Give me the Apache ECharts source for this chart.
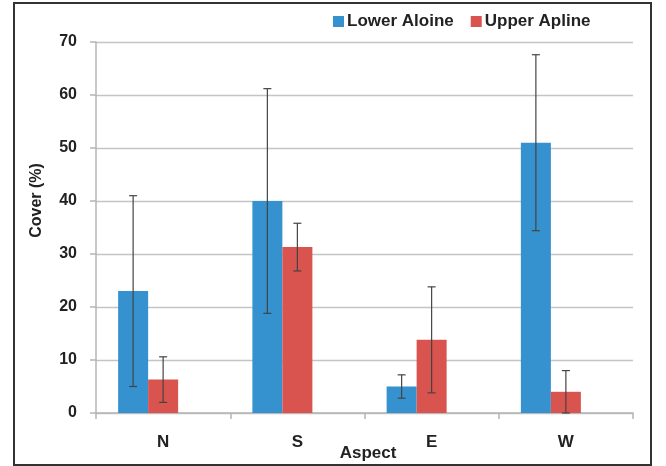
<!DOCTYPE html>
<html>
<head>
<meta charset="utf-8">
<script src="https://cdn.jsdelivr.net/npm/echarts@6/dist/echarts.min.js"></script>
<style>
  html, body { margin: 0; padding: 0; background: #fff; }
  #main { width: 666px; height: 466px; }
</style>
</head>
<body>
<div id="main"></div>
<script>
// data
var aspects = ["N", "S", "E", "W"];
var lowerMean = [23, 40, 5, 51];
var lowerErr = [18, 21.2, 2.2, 16.6];
var upperMean = [6.3, 31.3, 13.8, 4];
var upperErr = [4.3, 4.5, 10, 4];
var yTicks = [0, 10, 20, 30, 40, 50, 60, 70];

var blue = "#3592cf";
var red = "#d9534f";
var font = "Liberation Sans, Arial, sans-serif";

// error bar series; dx puts it over the matching bar
function errorSeries(name, means, errs, dx) {
  var rows = [];
  for (var i = 0; i < means.length; i++) {
    rows.push([i, means[i] - errs[i], means[i] + errs[i]]);
  }
  return {
    name: name + " err",
    type: "custom",
    data: rows,
    z: 10,
    silent: true,
    renderItem: function (params, api) {
      var lo = api.coord([api.value(0), api.value(1)]);
      var hi = api.coord([api.value(0), api.value(2)]);
      var x = lo[0] + dx;
      var cap = 4;
      var st = { stroke: "#444", lineWidth: 1.2 };
      return {
        type: "group",
        children: [
          { type: "line", shape: { x1: x, y1: lo[1], x2: x, y2: hi[1] }, style: st },
          { type: "line", shape: { x1: x - cap, y1: lo[1], x2: x + cap, y2: lo[1] }, style: st },
          { type: "line", shape: { x1: x - cap, y1: hi[1], x2: x + cap, y2: hi[1] }, style: st }
        ]
      };
    }
  };
}

var myChart = echarts.init(document.getElementById("main"));
var option = {
  animation: false,
  textStyle: { fontFamily: font },
  graphic: [
    {
      type: "rect",
      shape: { x: 14, y: 3, width: 637, height: 462 },
      style: { fill: "none", stroke: "#333", lineWidth: 2 },
      z: -1
    }
  ],
  legend: {
    data: [
      { name: "Lower Aloine", itemStyle: { color: blue } },
      { name: "Upper Apline", itemStyle: { color: red } }
    ],
    left: 328,
    top: 8,
    itemWidth: 11,
    itemHeight: 11,
    itemGap: 17,
    icon: "rect",
    textStyle: { fontSize: 17, fontWeight: "bold", color: "#222", fontFamily: font, padding: [0, 0, 0, -2] }
  },
  grid: { left: 96, right: 33, top: 42, bottom: 53, containLabel: false, outerBoundsMode: "none" },
  xAxis: {
    type: "category",
    data: aspects,
    name: "Aspect",
    nameLocation: "middle",
    nameGap: 32,
    nameMoveOverlap: false,
    nameTextStyle: { fontSize: 17, fontWeight: "bold", color: "#222", padding: [0, 0, 0, 7] },
    axisLine: { lineStyle: { color: "#b5b5b5", width: 1.5 } },
    axisTick: { show: true, length: 6, lineStyle: { color: "#b5b5b5", width: 1.5 } },
    axisLabel: { fontSize: 17, fontWeight: "bold", color: "#222", margin: 21 }
  },
  yAxis: {
    type: "value",
    min: 0,
    max: 70,
    interval: 10,
    name: "Cover (%)",
    nameLocation: "middle",
    nameGap: 51,
    nameMoveOverlap: false,
    nameTextStyle: { fontSize: 16, fontWeight: "bold", color: "#222", padding: [0, 0, 0, 54] },
    axisLine: { show: true, lineStyle: { color: "#b5b5b5", width: 1.5 } },
    axisTick: { show: true, length: 6, lineStyle: { color: "#b5b5b5", width: 1.5 } },
    splitLine: { lineStyle: { color: "#c4c4c4", width: 1.3 } },
    axisLabel: {
      fontSize: 16,
      fontWeight: "bold",
      color: "#222",
      margin: 19,
      formatter: function (v) { return yTicks.indexOf(v) >= 0 ? String(v) : ""; }
    }
  },
  series: [
    {
      name: "Lower Aloine",
      type: "bar",
      data: lowerMean,
      barWidth: 30,
      barGap: "0%",
      itemStyle: { color: blue }
    },
    {
      name: "Upper Apline",
      type: "bar",
      data: upperMean,
      barWidth: 30,
      barGap: "0%",
      itemStyle: { color: red }
    },
    {
      // empty third slot, as in the original spreadsheet layout
      name: "spacer",
      type: "bar",
      data: [],
      barWidth: 30,
      barGap: "0%"
    },
    errorSeries("Lower Aloine", lowerMean, lowerErr, -30),
    errorSeries("Upper Apline", upperMean, upperErr, 0)
  ]
};
myChart.setOption(option);
</script>
</body>
</html>
